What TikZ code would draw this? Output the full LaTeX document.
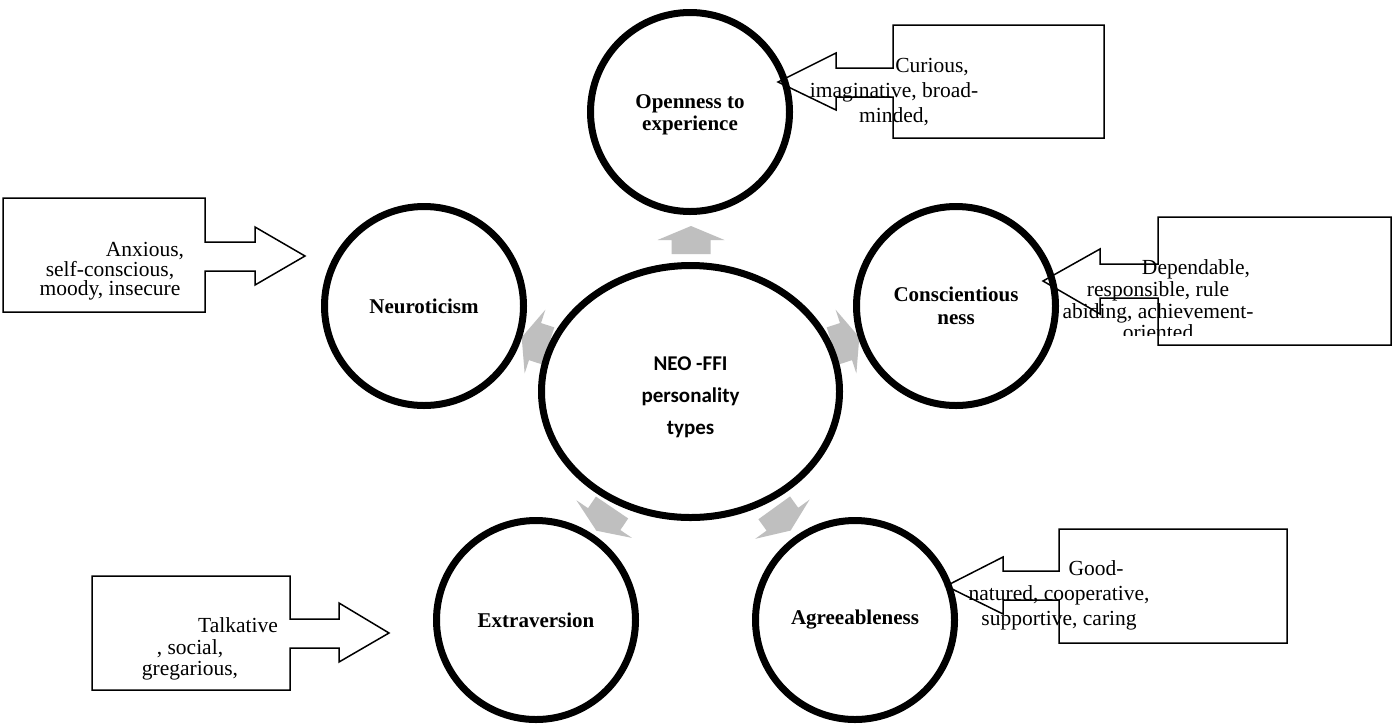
\documentclass[tikz,border=0pt]{standalone}
\usepackage{fontspec}
\setmainfont{Liberation Serif}
\newfontfamily\calibri{Carlito}
\usetikzlibrary{shapes.geometric}
\tikzset{
  pics/garrow/.style={code={
    \fill[black!25] (-14,-19.5) -- (0,-19.5) -- (0,-33.5) -- (14,0) -- (0,33.5) -- (0,19.5) -- (-14,19.5) -- cycle;}},
}
\begin{document}
\begin{tikzpicture}[x=1pt,y=-1pt,
  trait/.style={circle,draw=black,fill=white,line width=7pt,minimum size=199pt,inner sep=0pt,align=center,
    font=\fontsize{21}{22.5}\selectfont\bfseries},
  hub/.style={ellipse,draw=black,fill=white,line width=7pt,minimum width=298pt,minimum height=252pt,inner sep=0pt},
  hubtext/.style={align=center,inner sep=0pt,font=\calibri\fontsize{21}{32}\selectfont\bfseries},
  callout/.style={draw=black,line width=1.5pt,line join=miter},
  ctext/.style={align=center,inner sep=0pt,font=\fontsize{21.5}{#1}\selectfont},
]
\useasboundingbox (0,0) rectangle (1399,724);
\fill[white] (0,0) rectangle (1399,724);

% gray radial arrows (behind the shapes)
\pic[rotate=90] at (691,240) {garrow};
\pic[rotate=162] at (535,341.6) {garrow};
\pic[rotate=18] at (846,341.6) {garrow};
\pic[rotate=235.9] at (604.2,519.1) {garrow};
\pic[rotate=305.8] at (782.4,519.2) {garrow};

% circles
\node[trait] (open) at (690,112) {};
\node[trait] (openlbl) at (690,115) [draw=none,fill=none,minimum size=0pt] {Openness to\\experience};
\node[trait] (neuro) at (424,306) {Neuroticism};
\node[trait] (consc) at (956,306) {Conscientious\\ness};
\node[trait] (extra) at (536,620) {Extraversion};
\node[trait] (agree) at (855,620) {Agreeableness};
\node[hub] (hub) at (690.5,391.5) {};
\node[hubtext] (hubtxt) at (690.5,397) {NEO -FFI\\personality\\types};

% callouts
\draw[callout] (3,198) -- (205,198) -- (205,242) -- (255,242) -- (255,227) -- (305,256) -- (255,285) -- (255,271) -- (205,271) -- (205,312) -- (3,312) -- cycle;
\node[ctext=19.5] (tneuro) at (110,271.5) {\hspace*{70pt}Anxious,\\self-conscious,\\moody, insecure};

\draw[callout] (893,25) -- (1104,25) -- (1104,138) -- (893,138) -- (893,97) -- (836,97) -- (836,110) -- (778,82) -- (836,53) -- (836,68) -- (893,68) -- cycle;
\node[ctext=25] (topen) at (894,92) {\hspace*{76pt}Curious,\\imaginative, broad-\\minded,};

\draw[callout] (1158,217) -- (1391,217) -- (1391,345) -- (1158,345) -- (1158,298) -- (1100,298) -- (1100,314) -- (1043,281) -- (1100,249) -- (1100,264) -- (1158,264) -- cycle;
\begin{scope}
  \clip (1000,200) rectangle (1399,335);
  \node[ctext=21.7] (tconsc) at (1158,300) {\hspace*{76pt}Dependable,\\responsible, rule\\abiding, achievement-\\oriented};
\end{scope}

\draw[callout] (1059,529) -- (1287,529) -- (1287,643) -- (1059,643) -- (1059,600) -- (1003,600) -- (1003,614) -- (946,586) -- (1003,557) -- (1003,571) -- (1059,571) -- cycle;
\node[ctext=25] (tagree) at (1059,595) {\hspace*{74pt}Good-\\natured, cooperative,\\supportive, caring};

\draw[callout] (92,576) -- (290,576) -- (290,619) -- (339,619) -- (339,603) -- (389,633) -- (339,662) -- (339,648) -- (290,648) -- (290,690) -- (92,690) -- cycle;
\node[ctext=21.5] (textra) at (190,649) {\hspace*{96pt}Talkative\\, social,\\gregarious,};
\end{tikzpicture}
\end{document}
